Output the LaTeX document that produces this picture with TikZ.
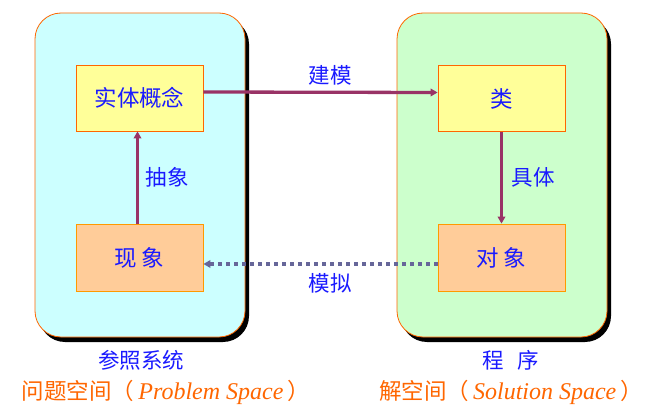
\documentclass[tikz,border=0pt]{standalone}
\usepackage{fontspec}
\newfontfamily\cjk{Noto Sans CJK SC}
\newfontfamily\tnr{Liberation Serif}
\usetikzlibrary{arrows.meta}
\definecolor{panelA}{HTML}{CCFFFF}
\definecolor{panelB}{HTML}{CCFFCC}
\definecolor{edgeO}{HTML}{FF6600}
\definecolor{boxY}{HTML}{FFFF99}
\definecolor{boxO}{HTML}{FFCC99}
\definecolor{boxOedge}{HTML}{FF9900}
\definecolor{arrM}{HTML}{993366}
\definecolor{arrG}{HTML}{666699}
\definecolor{txtB}{HTML}{1A1AFF}
\tikzset{
  panel/.style={draw=edgeO, line width=0.8pt, rounded corners=26pt},
  shadowp/.style={fill=black, rounded corners=26pt},
  ybox/.style={draw=edgeO, fill=boxY, line width=0.8pt, minimum width=127pt, minimum height=66pt, inner sep=0pt, font=\cjk\fontsize{22.5}{24}\selectfont, text=txtB},
  obox/.style={draw=boxOedge, fill=boxO, line width=0.8pt, minimum width=127pt, minimum height=67pt, inner sep=0pt, font=\cjk\fontsize{22.5}{24}\selectfont, text=txtB},
  lbl/.style={font=\cjk\fontsize{21.5}{24}\selectfont, text=txtB, inner sep=0pt},
  captxt/.style={font=\cjk\fontsize{22.5}{24}\selectfont, text=edgeO, inner sep=0pt},
  solidarr/.style={draw=arrM, line width=3.3pt, -{Triangle[length=7pt,width=7.5pt]}},
  dotarr/.style={draw=arrG, line width=3.3pt, dash pattern=on 4pt off 4pt, -{Triangle[length=7pt,width=7.5pt]}},
}
\begin{document}
\begin{tikzpicture}[x=1pt,y=-1pt]
\useasboundingbox (0,0) rectangle (649,412);
% panels with shadows
\fill[shadowp] (39,18) rectangle (249,342);
\fill[shadowp] (401,18) rectangle (611,342);
\filldraw[panel, fill=panelA] (35,13) rectangle (245,337);
\filldraw[panel, fill=panelB] (397,13) rectangle (607,337);
% boxes
\node[ybox] (ent) at (139.5,98) {实体概念};
\node[obox] (phen) at (139.5,257.5) {现 象};
\node[ybox] (cls) at (501.5,98.5) {类};
\node[obox] (obj) at (501.5,257.5) {对 象};
% arrows
\draw[solidarr] ([yshift=6pt]ent.east) -- ([yshift=6pt]cls.west);
\draw[dotarr] ([yshift=-6.5pt]obj.west) -- ([yshift=-6.5pt]phen.east);
\draw[solidarr] ([xshift=-2pt]phen.north) -- ([xshift=-2pt]ent.south);
\draw[solidarr] (cls.south) -- (obj.north);
% labels
\node[lbl] (l1) at (330,75) {建模};
\node[lbl] (l2) at (330,283) {模拟};
\node[lbl] (l3) at (167,177) {抽象};
\node[lbl] (l4) at (533,177) {具体};
\node[lbl] (c1) at (141,360) {参照系统};
\node[lbl] (c2) at (511,360) {程\hspace{14pt}序};
\node[captxt] (c3) at (166,392) {问题空间（{\tnr\itshape\fontsize{24}{26}\selectfont\,Problem Space\,}）};
\node[captxt] (c4) at (511,392) {解空间（{\tnr\itshape\fontsize{24}{26}\selectfont\,Solution Space\,}）};
\end{tikzpicture}
\end{document}
